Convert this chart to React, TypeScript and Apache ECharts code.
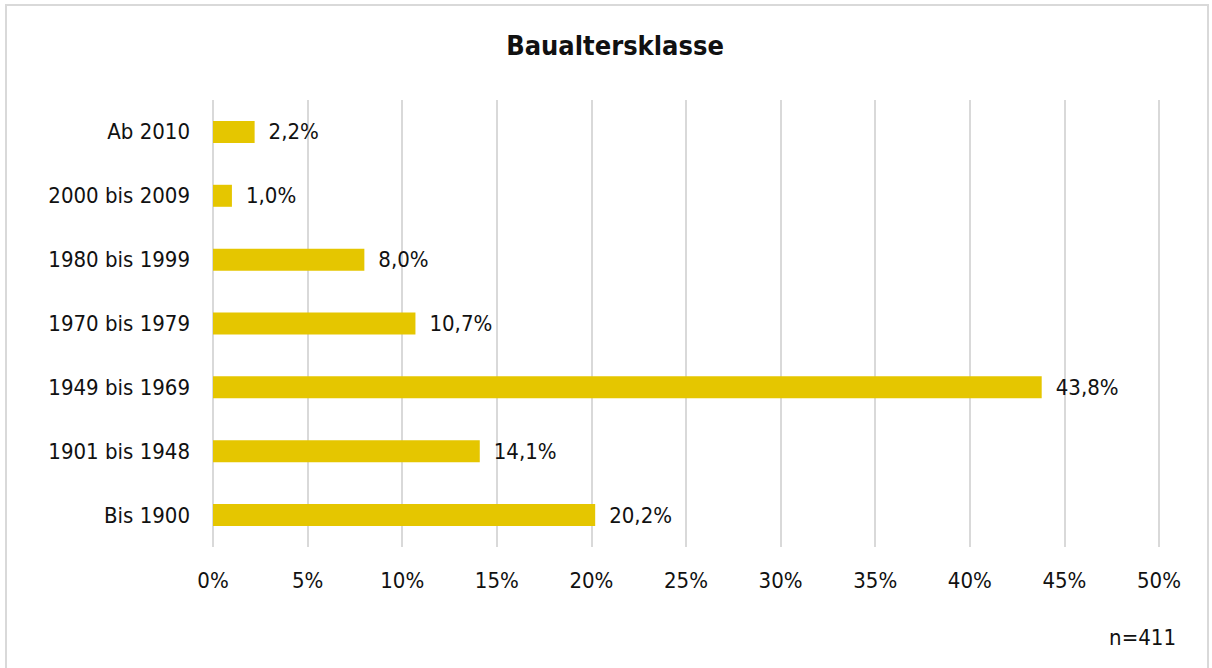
import React, { useEffect, useRef } from "react";
import * as echarts from "echarts";

const categories = ["Ab 2010", "2000 bis 2009", "1980 bis 1999", "1970 bis 1979", "1949 bis 1969", "1901 bis 1948", "Bis 1900"];
const values = [2.2, 1.0, 8.0, 10.7, 43.8, 14.1, 20.2];
const titleText = "Baualtersklasse";
const noteText = "n=411";

const FONT = "'DejaVu Sans Condensed', 'Liberation Sans Narrow', 'Noto Sans', sans-serif";

export default function App() {
  const ref = useRef<HTMLDivElement>(null);
  useEffect(() => {
    document.body.style.margin = "0";
    const chart = echarts.init(ref.current!, null, { renderer: "svg" });
    chart.setOption({
      animation: false,
      backgroundColor: "#ffffff",
      textStyle: { fontFamily: FONT },
      title: {
        text: titleText,
        left: 610,
        top: 27,
        textAlign: "center",
        textStyle: { fontFamily: FONT, fontSize: 27, fontWeight: "bold", color: "#111111" },
      },
      graphic: [
        {
          type: "rect",
          shape: { x: 6, y: 5, width: 1202, height: 720 },
          style: { fill: "none", stroke: "#d9d9d9", lineWidth: 2 },
          silent: true,
        },
        {
          type: "text",
          x: 1176,
          y: 637,
          style: { text: noteText, fontFamily: FONT, fontSize: 22, fill: "#111111", textAlign: "right", textVerticalAlign: "middle" },
        },
      ],
      grid: { left: 213, right: 53, top: 100, bottom: 121, containLabel: false },
      xAxis: {
        type: "value",
        min: 0,
        max: 50,
        interval: 5,
        axisLine: { show: false },
        axisTick: { show: false },
        splitLine: { show: true, lineStyle: { color: "#d9d9d9", width: 2 } },
        axisLabel: { formatter: "{value}%", fontSize: 22, color: "#111111", margin: 22, fontFamily: FONT },
      },
      yAxis: {
        type: "category",
        inverse: true,
        data: categories,
        axisLine: { show: false },
        axisTick: { show: false },
        axisLabel: { fontSize: 22, color: "#111111", margin: 23, fontFamily: FONT },
      },
      series: [
        {
          type: "bar",
          data: values,
          barWidth: 22,
          itemStyle: { color: "#e5c600" },
          label: {
            show: true,
            position: "right",
            distance: 14,
            fontSize: 22,
            color: "#111111",
            fontFamily: FONT,
            formatter: (p: any) => p.value.toFixed(1).replace(".", ",") + "%",
          },
        },
      ],
    });
    return () => chart.dispose();
  }, []);
  return <div ref={ref} style={{ width: 1212, height: 668 }} />;
}
